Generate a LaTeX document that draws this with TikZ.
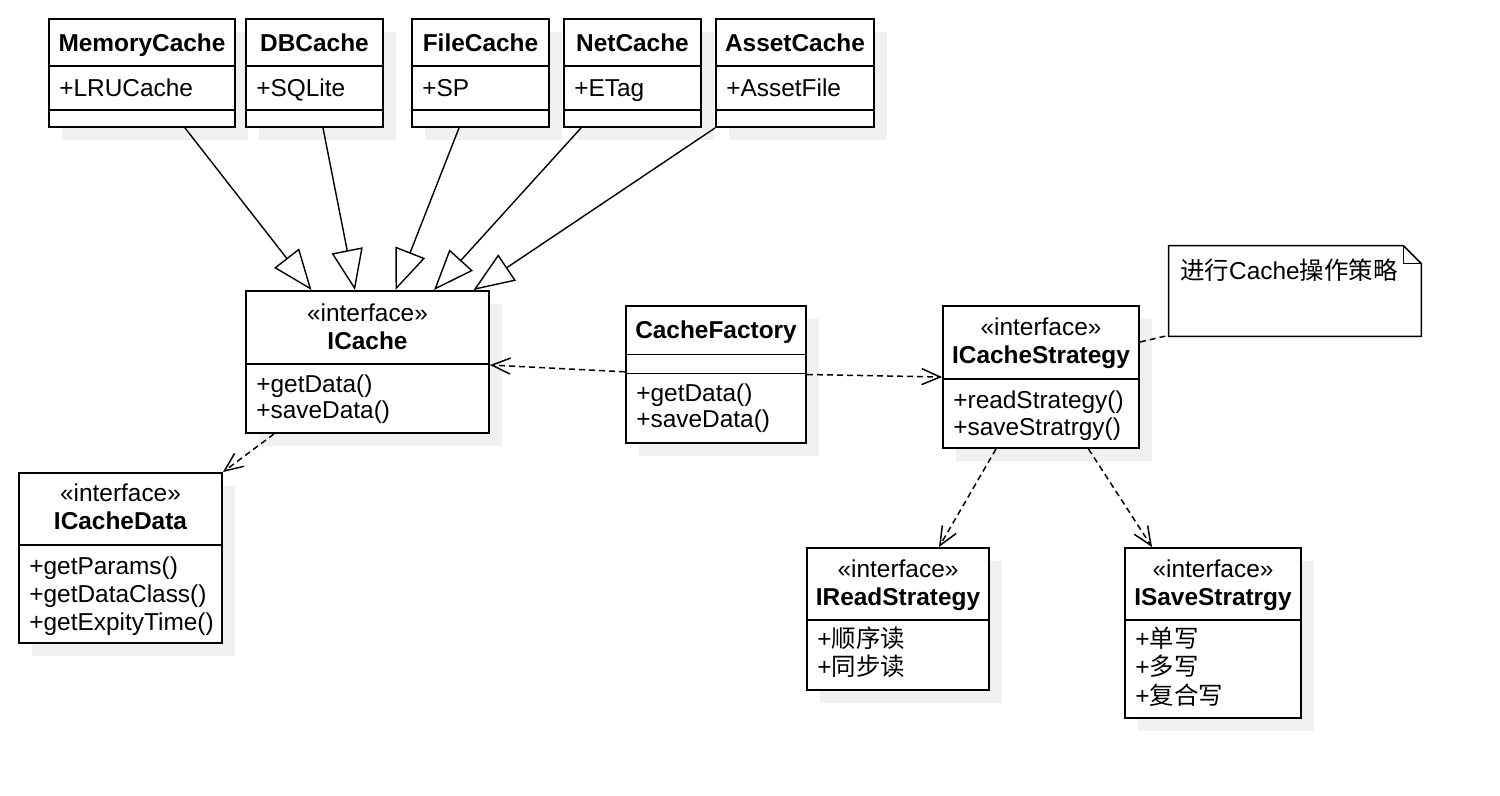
\documentclass[tikz,border=0pt]{standalone}
\usepackage{fontspec}
\setmainfont{Liberation Sans}
\newfontfamily\cjk{Noto Sans CJK SC}
\usetikzlibrary{positioning, calc, arrows.meta, fit}
\definecolor{Ink}{HTML}{000000}
\definecolor{Shade}{HTML}{F0F0F0}
\newcommand{\umlsize}{\fontsize{13.9}{15.9}\selectfont}
\tikzset{
    classbox/.style={draw=Ink, line width=1.1pt, fill=white, inner sep=0pt},
    divider/.style={draw=Ink, line width=1.1pt},
    namelabel/.style={font=\umlsize\bfseries, inner sep=0pt, text height=10pt, text depth=0pt},
    stereolabel/.style={font=\umlsize, inner sep=0pt, text height=10pt, text depth=0pt},
    memberlabel/.style={font=\umlsize, anchor=west, inner sep=0pt, text height=10pt, text depth=0pt},
    inherit/.style={-{Triangle[open, length=0.81cm, width=0.63cm]}, line width=0.8pt, color=Ink},
    depend/.style={-{Straight Barb[length=0.37cm, width=0.32cm]}, line width=0.85pt, dash pattern=on 3.4pt off 2.3pt, color=Ink},
    notelink/.style={line width=0.85pt, dash pattern=on 3.4pt off 2.3pt, color=Ink},
}
% class frame with its grey drop shadow: name, left, top, right, bottom
\newcommand{\umlbox}[5]{%
    \fill[Shade] (#2+13,#3+13) rectangle (#4+13,#5+13);
    \node[classbox, fit={(#2,#3) (#4,#5)}] (#1) {};
}

\begin{document}
\begin{tikzpicture}[x=0.02cm, y=-0.02cm]
    \useasboundingbox (0,0) rectangle (1500,795);

    % Concrete caches
    \umlbox{memory}{49}{19}{235}{127}
    \draw[divider] (49,66) -- (235,66);
    \draw[divider] (49,110) -- (235,110);
    \node[namelabel] (memory-name) at (142,43) {MemoryCache};
    \node[memberlabel] (memory-m1) at (59,88) {+LRUCache};

    \umlbox{db}{246}{19}{383}{127}
    \draw[divider] (246,66) -- (383,66);
    \draw[divider] (246,110) -- (383,110);
    \node[namelabel] (db-name) at (314.5,43) {DBCache};
    \node[memberlabel] (db-m1) at (256,88) {+SQLite};

    \umlbox{file}{412}{19}{549}{127}
    \draw[divider] (412,66) -- (549,66);
    \draw[divider] (412,110) -- (549,110);
    \node[namelabel] (file-name) at (480.5,43) {FileCache};
    \node[memberlabel] (file-m1) at (422,88) {+SP};

    \umlbox{net}{564}{19}{701}{127}
    \draw[divider] (564,66) -- (701,66);
    \draw[divider] (564,110) -- (701,110);
    \node[namelabel] (net-name) at (632.5,43) {NetCache};
    \node[memberlabel] (net-m1) at (574,88) {+ETag};

    \umlbox{asset}{716}{19}{874}{127}
    \draw[divider] (716,66) -- (874,66);
    \draw[divider] (716,110) -- (874,110);
    \node[namelabel] (asset-name) at (795,43) {AssetCache};
    \node[memberlabel] (asset-m1) at (726,88) {+AssetFile};

    % ICache interface
    \umlbox{icache}{246}{291}{489}{433}
    \draw[divider] (246,364) -- (489,364);
    \node[stereolabel] (icache-st) at (367.5,313) {«interface»};
    \node[namelabel] (icache-name) at (367.5,341) {ICache};
    \node[memberlabel] (icache-m1) at (256,384) {+getData()};
    \node[memberlabel] (icache-m2) at (256,410) {+saveData()};

    % Factory
    \umlbox{factory}{626}{306}{806}{443}
    \draw[divider] (626,354.5) -- (806,354.5);
    \draw[divider] (626,373.5) -- (806,373.5);
    \node[namelabel] (factory-name) at (716,330) {CacheFactory};
    \node[memberlabel] (factory-m1) at (636,393) {+getData()};
    \node[memberlabel] (factory-m2) at (636,419) {+saveData()};

    % Strategy interface
    \umlbox{strategy}{943}{306}{1139}{448}
    \draw[divider] (943,379) -- (1139,379);
    \node[stereolabel] (strategy-st) at (1041,327) {«interface»};
    \node[namelabel] (strategy-name) at (1041,355) {ICacheStrategy};
    \node[memberlabel] (strategy-m1) at (953,400) {+readStrategy()};
    \node[memberlabel] (strategy-m2) at (953,427) {+saveStratrgy()};

    % Data interface
    \umlbox{cachedata}{19}{473}{222}{643}
    \draw[divider] (19,545) -- (222,545);
    \node[stereolabel] (cachedata-st) at (120.5,493) {«interface»};
    \node[namelabel] (cachedata-name) at (120.5,521) {ICacheData};
    \node[memberlabel] (cachedata-m1) at (29,566) {+getParams()};
    \node[memberlabel] (cachedata-m2) at (29,594) {+getDataClass()};
    \node[memberlabel] (cachedata-m3) at (29,622) {+getExpityTime()};

    % Read / save strategies
    \umlbox{read}{807}{548}{989}{690}
    \draw[divider] (807,620) -- (989,620);
    \node[stereolabel] (read-st) at (898,569) {«interface»};
    \node[namelabel] (read-name) at (898,597) {IReadStrategy};
    \node[memberlabel] (read-m1) at (817,639) {+{\cjk 顺序读}};
    \node[memberlabel] (read-m2) at (817,667) {+{\cjk 同步读}};

    \umlbox{save}{1125}{548}{1301}{718}
    \draw[divider] (1125,620) -- (1301,620);
    \node[stereolabel] (save-st) at (1213,569) {«interface»};
    \node[namelabel] (save-name) at (1213,597) {ISaveStratrgy};
    \node[memberlabel] (save-m1) at (1135,639) {+{\cjk 单写}};
    \node[memberlabel] (save-m2) at (1135,667) {+{\cjk 多写}};
    \node[memberlabel] (save-m3) at (1135,696) {+{\cjk 复合写}};

    % Note
    \node[inner sep=0pt, fit={(1169,246) (1421,336)}] (note) {};
    \draw[line width=0.9pt, fill=white] (note.south west) -- (note.north west)
        -- ($(note.north east)+(-18,0)$) -- ($(note.north east)+(0,18)$)
        -- (note.south east) -- cycle;
    \draw[line width=0.9pt] ($(note.north east)+(-18,0)$) -- ($(note.north east)+(-18,18)$)
        -- ($(note.north east)+(0,18)$);
    \node[memberlabel] (note-text) at (1180,271) {{\cjk 进行}Cache{\cjk 操作策略}};

    % Generalisations
    \draw[inherit] ($(memory.south)+(43,0)$) -- ($(icache.north)+(-56,0)$);
    \draw[inherit] ($(db.south)+(8.5,0)$) -- ($(icache.north)+(-12.5,0)$);
    \draw[inherit] ($(file.south)+(-21.5,0)$) -- ($(icache.north)+(28,0)$);
    \draw[inherit] ($(net.south)+(-51.5,0)$) -- ($(icache.north)+(66.5,0)$);
    \draw[inherit] (asset.south west) -- ($(icache.north)+(106,0)$);

    % Dependencies
    \draw[depend] ($(factory.west)+(0,-2.7)$) -- ($(icache.east)+(0,3)$);
    \draw[depend] (factory.east) -- (strategy.west);
    \draw[depend] ($(icache.south)+(-93.5,0)$) -- (cachedata.north east);
    \draw[depend] ($(strategy.south)+(-45,0)$) -- ($(read.north)+(41,0)$);
    \draw[depend] ($(strategy.south)+(47.5,0)$) -- ($(save.north)+(-61,0)$);
    \draw[notelink] ($(strategy.east)+(0,-35)$) -- ($(note.south west)+(0,-1)$);
\end{tikzpicture}
\end{document}
